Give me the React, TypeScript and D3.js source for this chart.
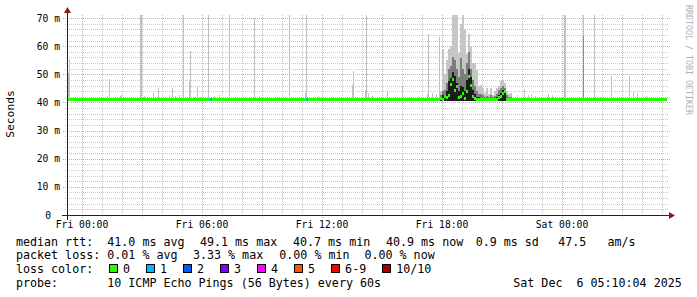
import React from 'react';
import * as d3 from 'd3';

const W = 697;
const H = 297;

// axis ticks
const yMajorTicks = [0, 10, 20, 30, 40, 50, 60, 70];
const yTickLabels = ['0', '10 m', '20 m', '30 m', '40 m', '50 m', '60 m', '70 m'];
const xLabelHours = [0, 6, 12, 18, 24];
const xLabels = ['Fri 00:00', 'Fri 06:00', 'Fri 12:00', 'Fri 18:00', 'Sat 00:00'];

// isolated single-ping spikes (hours since Fri 00:00, max rtt in ms)
const spikeHours = [-0.7, -0.65, 1.33, 2.9, 2.95, 3.55, 3.8, 4.37, 4.5, 4.87, 5.05, 5.35, 5.4, 5.77, 6.3, 6.83, 7.33, 8.62, 8.85, 10.37, 11.15, 11.2, 13.5, 13.57, 14.17, 14.2, 14.32, 15.27, 15.98, 17.32, 17.87, 22.1, 23.3, 23.5, 24.1, 24.15, 25.05, 25.62, 26.47, 27.35, 27.55, 27.73];
const spikeMax = [50.5, 55.5, 48.4, 71.1, 71.1, 43.4, 45.1, 42.5, 45.1, 42.8, 71.1, 47.3, 58.2, 45.5, 71.1, 42.5, 71.1, 70.0, 42.2, 71.1, 43.4, 71.1, 46.1, 51.3, 44.6, 71.1, 43.4, 44.0, 46.1, 64.4, 63.4, 44.8, 43.0, 42.5, 71.1, 71.1, 71.1, 71.1, 49.3, 49.3, 44.0, 43.2];

// small bumps just above the median
const bumpHours = [-0.42, 1.17, 1.25, 1.92, 1.97, 3.09, 3.3, 4.0, 4.67, 5.59, 5.92, 6.6, 7.37, 8.32, 9.57, 9.82, 10.24, 10.99, 11.57, 11.82, 12.49, 13.35, 14.49, 14.74, 15.15, 15.55, 16.4, 16.8, 17.25, 17.5, 17.7, 21.4, 21.73, 22.3, 22.45, 22.65, 23.05, 23.73, 25.9, 26.65, 28.2, 28.73, 29.07];
const bumpMax = [41.8, 41.8, 42.2, 42.2, 42.5, 42.2, 41.8, 41.8, 42.2, 41.8, 41.8, 42.2, 42.2, 41.7, 41.8, 41.8, 41.8, 41.8, 41.8, 42.2, 41.8, 41.8, 42.2, 41.8, 42.0, 41.8, 41.8, 42.0, 43.0, 43.5, 43.0, 43.0, 42.5, 42.5, 43.0, 42.2, 41.8, 41.8, 41.8, 41.8, 42.2, 41.8, 41.8];

// darker portion of a spike
const darkSpikeHours = [25.05];
const darkSpikeTop = [63.5];

// congested period around Fri 18:00 (2-pixel steps)
const clusterHours = [17.9, 18.0, 18.1, 18.2, 18.3, 18.4, 18.5, 18.6, 18.7, 18.8, 18.9, 19.0, 19.1, 19.2, 19.3, 19.4, 19.5, 19.6, 19.7, 19.8, 19.9, 20.0, 20.1, 20.2, 20.3, 20.4, 20.5, 20.6, 20.7, 20.8, 20.9, 21.0, 21.1, 21.2, 21.3, 21.4];
const clusterMax = [44.0, 58.9, 50.0, 55.0, 58.9, 60.0, 71.1, 71.1, 71.1, 57.7, 68.0, 71.1, 66.0, 57.4, 64.3, 60.0, 53.9, 53.9, 51.6, 46.0, 46.2, 45.0, 43.5, 45.0, 43.0, 45.2, 42.6, 44.0, 45.0, 46.0, 47.5, 48.0, 47.0, 44.0, 43.0, 43.5];
const clusterMid = [42.6, 44.0, 44.5, 47.0, 52.0, 53.0, 56.0, 55.0, 52.0, 49.0, 55.8, 52.0, 50.0, 54.0, 58.0, 52.0, 48.0, 46.0, 44.0, 43.0, 43.0, 42.5, 42.0, 42.4, 41.8, 42.5, 41.8, 42.2, 43.0, 44.5, 45.0, 46.0, 45.0, 42.5, 42.0, 42.0];
const clusterInner = [41.8, 42.5, 42.8, 44.0, 47.5, 48.6, 51.0, 49.5, 47.0, 44.0, 46.0, 45.6, 44.0, 48.0, 52.0, 49.0, 44.5, 43.0, 42.0, 41.8, 41.5, 41.4, 41.3, 41.3, 41.2, 41.3, 41.2, 41.3, 41.8, 42.5, 43.5, 44.5, 43.8, 41.6, 41.4, 41.3];
const clusterMedian = [41.4, 41.2, 42.2, 41.6, 42.6, 46.4, 48.1, 44.2, 45.7, 41.6, 42.0, 43.2, 41.5, 44.0, 49.3, 46.2, 42.0, 41.5, 41.2, 41.0, 40.9, 40.9, 40.9, 40.9, 40.9, 40.9, 40.9, 40.9, 41.2, 41.8, 42.3, 43.2, 43.8, 40.9, 40.9, 40.9];

const baseMedian = 40.9;
const smokeFloor = 40.5;

// loss events shown in the median line
const lossHours = [6.42, 11.2];
const lossPings = [1, 1];

const lossLabels = ['0', '1', '2', '3', '4', '5', '6-9', '10/10'];
const lossColors = ['#26ff00', '#00b8ff', '#0059ff', '#7e00ff', '#ff00ff', '#ff5500', '#ff0000', '#a10000'];

const row1 = [
  { x: 16, t: 'median rtt:' },
  { x: 107.3, t: '41.0 ms avg' },
  { x: 200, t: '49.1 ms max' },
  { x: 293, t: '40.7 ms min' },
  { x: 386, t: '40.9 ms now' },
  { x: 475.7, t: '0.9 ms sd' },
  { x: 558.3, t: '47.5   am/s' },
];
const row2 = [
  { x: 16, t: 'packet loss:' },
  { x: 107.3, t: '0.01 % avg' },
  { x: 193, t: '3.33 % max' },
  { x: 279.3, t: '0.00 % min' },
  { x: 364.5, t: '0.00 % now' },
];
const row4 = [
  { x: 16, t: 'probe:' },
  { x: 107.3, t: '10 ICMP Echo Pings (56 Bytes) every 60s' },
  { x: 513.3, t: 'Sat Dec  6 05:10:04 2025' },
];

const MONO = '"DejaVu Sans Mono", monospace';

export default function App() {
  const x = d3.scaleLinear().domain([-0.75, 29.25]).range([67, 667]);
  const y = d3.scaleLinear().domain([0, 71.1]).range([215, 15]);
  const px = 1 / 20; // one pixel in hours

  const hourTicks = d3.range(0, 30);
  const minorY = d3.range(2, 71, 2).filter((v) => v % 10 !== 0);

  const stepW = 0.1;
  const medianSteps: { h0: number; h1: number; v: number }[] = [];
  medianSteps.push({ h0: -0.75, h1: clusterHours[0], v: baseMedian });
  clusterHours.forEach((h, i) => medianSteps.push({ h0: h, h1: h + stepW, v: clusterMedian[i] }));
  medianSteps.push({ h0: clusterHours[clusterHours.length - 1] + stepW, h1: 29.25, v: baseMedian });

  const legendItems: { label: string; color: string; tx: number }[] = [];
  let tx = 123;
  lossLabels.forEach((l, i) => {
    legendItems.push({ label: l, color: lossColors[i], tx });
    tx += l.length * 7.02 + 30;
  });

  const bar = (h: number, top: number, bottom: number, w: number, fill: string, key: string) => {
    const x0 = Math.round(x(h));
    const x1 = Math.max(x0 + 1, Math.round(x(h + w)));
    const yt = y(top);
    const yb = y(bottom);
    return <rect key={key} x={x0} y={yt} width={x1 - x0} height={Math.max(0, yb - yt)} fill={fill} />;
  };

  return (
    <div style={{ position: 'absolute', left: 0, top: 0 }}>
      <svg width={W} height={H} style={{ display: 'block', background: '#ffffff' }}>
        <rect x={0} y={0} width={W} height={H} fill="#ffffff" />
        {/* minor grid */}
        <g stroke="#c8c8c8" strokeWidth={1} strokeDasharray="1,1" shapeRendering="crispEdges">
          {minorY.map((v) => (
            <line key={'my' + v} x1={65} x2={669} y1={Math.round(y(v)) + 0.5} y2={Math.round(y(v)) + 0.5} />
          ))}
          {hourTicks.filter((h) => h % 3 !== 0).map((h) => (
            <line key={'mx' + h} x1={Math.round(x(h)) + 0.5} x2={Math.round(x(h)) + 0.5} y1={15} y2={217} />
          ))}
        </g>
        {/* major grid */}
        <g stroke="#f09a9a" strokeWidth={1} strokeDasharray="1,1" shapeRendering="crispEdges">
          {yMajorTicks.filter((v) => v > 0).map((v) => (
            <line key={'My' + v} x1={63} x2={671} y1={Math.round(y(v)) + 0.5} y2={Math.round(y(v)) + 0.5} />
          ))}
          {hourTicks.filter((h) => h % 3 === 0).map((h) => (
            <line key={'Mx' + h} x1={Math.round(x(h)) + 0.5} x2={Math.round(x(h)) + 0.5} y1={15} y2={219} />
          ))}
        </g>

        {/* smoke */}
        <g shapeRendering="crispEdges">
          {bumpHours.map((h, i) => bar(h, bumpMax[i], smokeFloor, px, '#c4c4c4', 'b' + i))}
          {spikeHours.map((h, i) => bar(h, spikeMax[i], smokeFloor, px, '#c0c0c0', 's' + i))}
          {darkSpikeHours.map((h, i) => bar(h, darkSpikeTop[i], smokeFloor, px, '#8a8a8a', 'd' + i))}
          {clusterHours.map((h, i) => bar(h, clusterMax[i], smokeFloor, stepW, '#c6c6c6', 'cm' + i))}
          {clusterHours.map((h, i) => bar(h, clusterMid[i], smokeFloor, stepW, '#7c7c7c', 'cd' + i))}
          {clusterHours.map((h, i) => bar(h, clusterInner[i], smokeFloor, stepW, '#1c1c1c', 'ci' + i))}
        </g>

        {/* median */}
        <g shapeRendering="crispEdges">
          {medianSteps.map((s, i) => {
            const x0 = Math.round(x(s.h0));
            const x1 = Math.round(x(s.h1));
            return <rect key={'m' + i} x={x0} y={y(s.v) - 1.5} width={x1 - x0} height={3} fill={lossColors[0]} />;
          })}
          {lossHours.map((h, i) => {
            const x0 = Math.round(x(h));
            return <rect key={'l' + i} x={x0} y={y(baseMedian) - 1.5} width={2} height={3} fill={lossColors[lossPings[i]]} />;
          })}
        </g>

        {/* axes */}
        <g shapeRendering="crispEdges" stroke="#222" strokeWidth={1}>
          <line x1={62} x2={670} y1={215.5} y2={215.5} />
          <line x1={67.5} x2={67.5} y1={220} y2={12} />
          <line x1={63} x2={67} y1={215.5} y2={215.5} />
        </g>
        <path d="M669,212 L675,215.5 L669,219 Z" fill="#8b1a1a" />
        <path d="M64,13 L67.5,7 L71,13 Z" fill="#8b1a1a" />

        {/* y labels */}
        <g fontFamily={MONO} fontSize={9.7} fill="#000">
          {yMajorTicks.map((v, i) => (
            <text key={'yl' + v} x={v === 0 ? 51 : 60} y={y(v) + 3.5} textAnchor="end">
              {yTickLabels[i]}
            </text>
          ))}
          {xLabelHours.map((h, i) => (
            <text key={'xl' + h} x={x(h)} y={228} textAnchor="middle">
              {xLabels[i]}
            </text>
          ))}
        </g>

        <text
          transform="translate(14,114) rotate(-90)"
          textAnchor="middle"
          fontFamily={MONO}
          fontSize={11.3}
          fill="#000"
        >
          Seconds
        </text>
        <text
          transform="translate(686,60) rotate(90)"
          textAnchor="middle"
          fontFamily={MONO}
          fontSize={8.3}
          fill="#b0b0b0"
        >
          RRDTOOL / TOBI OETIKER
        </text>

        {/* legend */}
        <g fontFamily={MONO} fontSize={11.66} fill="#000" style={{ whiteSpace: 'pre' }}>
          {row1.map((s, i) => (
            <text key={'r1' + i} x={s.x} y={245.5} xmlSpace="preserve">{s.t}</text>
          ))}
          {row2.map((s, i) => (
            <text key={'r2' + i} x={s.x} y={259} xmlSpace="preserve">{s.t}</text>
          ))}
          <text x={16} y={273}>loss color:</text>
          {legendItems.map((it, i) => (
            <g key={'li' + i}>
              <rect x={Math.round(it.tx - 14.3) + 0.5} y={264.5} width={8} height={8} fill={it.color} stroke="#000" strokeWidth={1} />
              <text x={it.tx} y={273}>{it.label}</text>
            </g>
          ))}
          {row4.map((s, i) => (
            <text key={'r4' + i} x={s.x} y={287} xmlSpace="preserve">{s.t}</text>
          ))}
        </g>
      </svg>
    </div>
  );
}
